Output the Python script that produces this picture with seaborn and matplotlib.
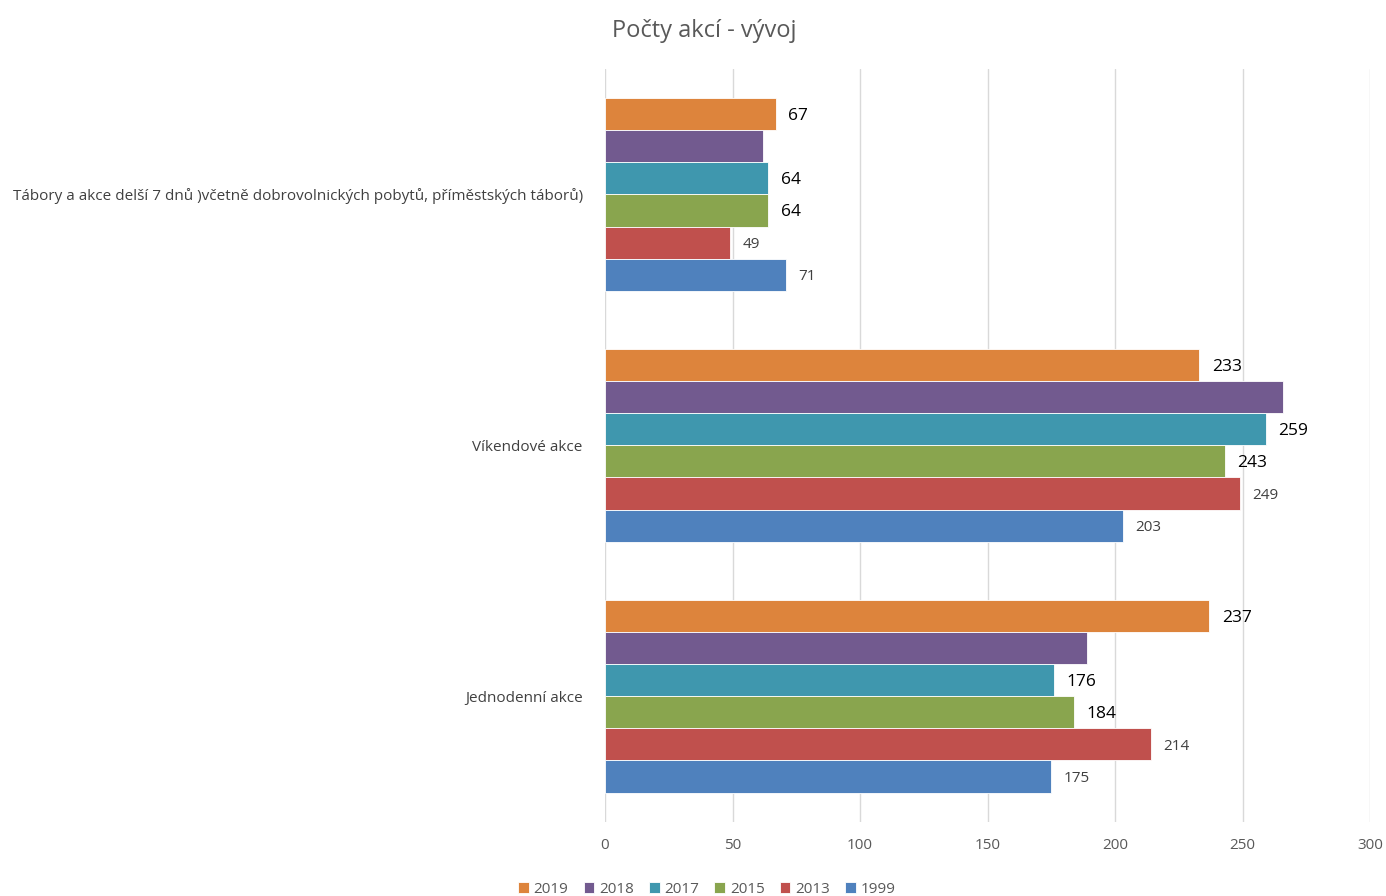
import matplotlib.pyplot as plt
import seaborn as sns
import pandas as pd

# chart data
categories = [
    'Tábory a akce delší 7 dnů )včetně dobrovolnických pobytů, příměstských táborů)',
    'Víkendové akce',
    'Jednodenní akce',
]
years = ['2019', '2018', '2017', '2015', '2013', '1999']
values_2019 = [67, 233, 237]
values_2018 = [62, 266, 189]
values_2017 = [64, 259, 176]
values_2015 = [64, 243, 184]
values_2013 = [49, 249, 214]
values_1999 = [71, 203, 175]

series = [values_2019, values_2018, values_2017, values_2015, values_2013, values_1999]
colors = ['#DD843C', '#725A8F', '#3F97AE', '#89A54E', '#C0504D', '#4F81BD']

rows = []
for year, vals in zip(years, series):
    for cat, v in zip(categories, vals):
        rows.append({'Kategorie': cat, 'Rok': year, 'Počet': v})
df = pd.DataFrame(rows)

sns.set_style('white')
plt.rcParams['font.family'] = ['Open Sans', 'DejaVu Sans']

fig = plt.figure(figsize=(13.86, 8.96), dpi=100)
ax = fig.add_axes([0.4365, 0.083, 0.552, 0.84])

sns.barplot(data=df, y='Kategorie', x='Počet', hue='Rok', hue_order=years,
            order=categories, palette=colors, orient='h', width=0.768,
            saturation=1, ax=ax, legend=True, edgecolor='white', linewidth=0.6)

# data labels: 2018 has none, older years are small and gray
label_styles = {
    '2019': dict(color='black', fontsize=12.5),
    '2017': dict(color='black', fontsize=12.5),
    '2015': dict(color='black', fontsize=12.5),
    '2013': dict(color='#404040', fontsize=11),
    '1999': dict(color='#404040', fontsize=11),
}
for year, bars in zip(years, ax.containers):
    if year in label_styles:
        texts = ax.bar_label(bars, fmt='%d', padding=9, **label_styles[year])
        for t in texts:
            t.set_y(t.get_position()[1])
            t.set_va('center_baseline')

ax.set_xlim(0, 300)
ax.set_ylim(2.5, -0.5)
ax.set_xticks(range(0, 301, 50))
ax.grid(axis='x', color='#D9D9D9', linewidth=1)
ax.grid(axis='y', visible=False)
ax.set_axisbelow(True)
for s in ax.spines.values():
    s.set_visible(False)
ax.tick_params(axis='x', length=0, colors='#595959', labelsize=11, pad=12)
ax.tick_params(axis='y', length=0, colors='#404040', labelsize=11, pad=16)
ax.set_xlabel('')
ax.set_ylabel('')

handles, labels = ax.get_legend_handles_labels()
ax.get_legend().remove()
fig.legend(handles, labels, loc='lower center', bbox_to_anchor=(0.51, -0.016),
           ncol=6, frameon=False, fontsize=11, handlelength=0.7, handleheight=0.7,
           handletextpad=0.3, columnspacing=1.0, labelcolor='#595959')

fig.suptitle('Počty akcí - vývoj', x=0.508, y=0.979, fontsize=17, color='#595959')

fig.savefig('out.png', dpi=100)
